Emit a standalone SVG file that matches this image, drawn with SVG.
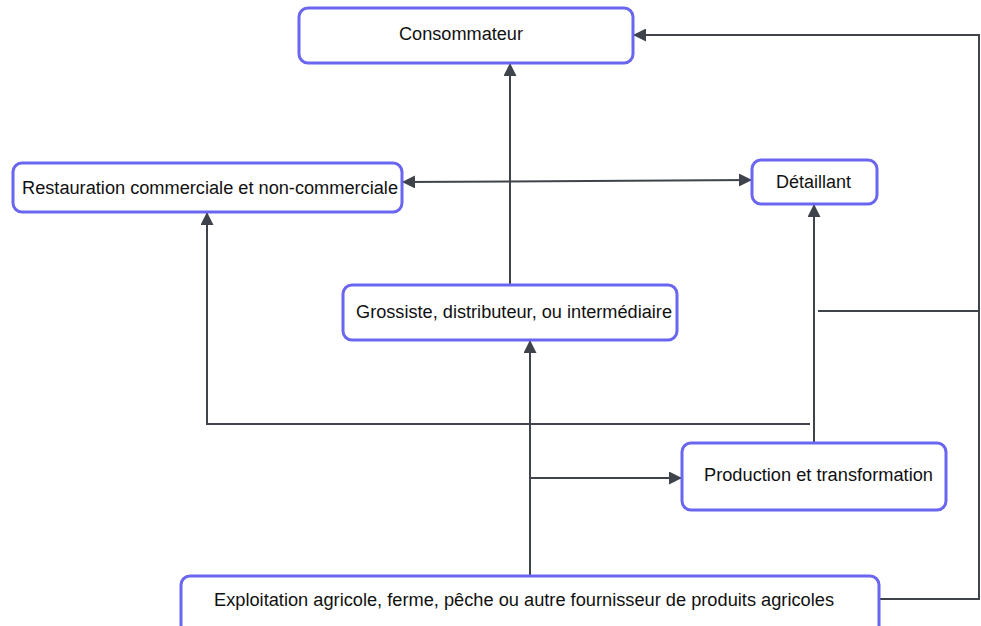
<svg xmlns="http://www.w3.org/2000/svg" width="981" height="626" viewBox="0 0 981 626">
  <style>
    .box { fill: #ffffff; stroke: #6b66ef; stroke-width: 3; }
    .lbl { font-family: "Liberation Sans", Arial, sans-serif; font-size: 18px; fill: #111111; dominant-baseline: central; }
    .wire { fill: none; stroke: #3e434c; stroke-width: 2; }
  </style>
  <defs>
    <marker id="head" viewBox="0 0 13 13" refX="12" refY="6.5" markerWidth="13" markerHeight="13" markerUnits="userSpaceOnUse" orient="auto-start-reverse">
      <path d="M0,0 L13,6.5 L0,13 Z" fill="#3e434c"/>
    </marker>
  </defs>
  <rect width="981" height="626" fill="#ffffff"/>

  <g id="connectors">
    <!-- Exploitation to Consommateur via right edge -->
    <path class="wire" d="M880,599 H979 V35 H634" marker-end="url(#head)"/>
    <!-- branch to Détaillant column -->
    <path class="wire" d="M979,311 H818"/>
    <!-- Production up to Détaillant -->
    <path class="wire" d="M814,443 V205" marker-end="url(#head)"/>
    <!-- Production branch to Restauration -->
    <path class="wire" d="M810,424 H207 V213" marker-end="url(#head)"/>
    <!-- Exploitation up to Grossiste -->
    <path class="wire" d="M530,576 V341" marker-end="url(#head)"/>
    <!-- Exploitation branch to Production -->
    <path class="wire" d="M530,478 H681" marker-end="url(#head)"/>
    <!-- Grossiste up to Consommateur -->
    <path class="wire" d="M510,285 V64" marker-end="url(#head)"/>
    <!-- Restauration to Détaillant, both ways -->
    <path class="wire" d="M403,182 L751,180" marker-start="url(#head)" marker-end="url(#head)"/>
  </g>

  <g id="consommateur">
    <rect class="box" x="299" y="8" width="334" height="55" rx="9"/>
    <text class="lbl" x="399" y="34" textLength="124" lengthAdjust="spacingAndGlyphs">Consommateur</text>
  </g>
  <g id="restauration">
    <rect class="box" x="13" y="163" width="389" height="49" rx="9"/>
    <text class="lbl" x="22" y="188" textLength="376" lengthAdjust="spacingAndGlyphs">Restauration commerciale et non-commerciale</text>
  </g>
  <g id="detaillant">
    <rect class="box" x="752" y="160" width="125" height="44" rx="9"/>
    <text class="lbl" x="776" y="182" textLength="75" lengthAdjust="spacingAndGlyphs">Détaillant</text>
  </g>
  <g id="grossiste">
    <rect class="box" x="343" y="285" width="334" height="55" rx="9"/>
    <text class="lbl" x="356" y="312" textLength="316" lengthAdjust="spacingAndGlyphs">Grossiste, distributeur, ou intermédiaire</text>
  </g>
  <g id="production">
    <rect class="box" x="682" y="443" width="264" height="67" rx="9"/>
    <text class="lbl" x="704" y="475" textLength="229" lengthAdjust="spacingAndGlyphs">Production et transformation</text>
  </g>
  <g id="exploitation">
    <rect class="box" x="181" y="576" width="698" height="60" rx="9"/>
    <text class="lbl" x="214" y="600" textLength="620" lengthAdjust="spacingAndGlyphs">Exploitation agricole, ferme, pêche ou autre fournisseur de produits agricoles</text>
  </g>
</svg>
